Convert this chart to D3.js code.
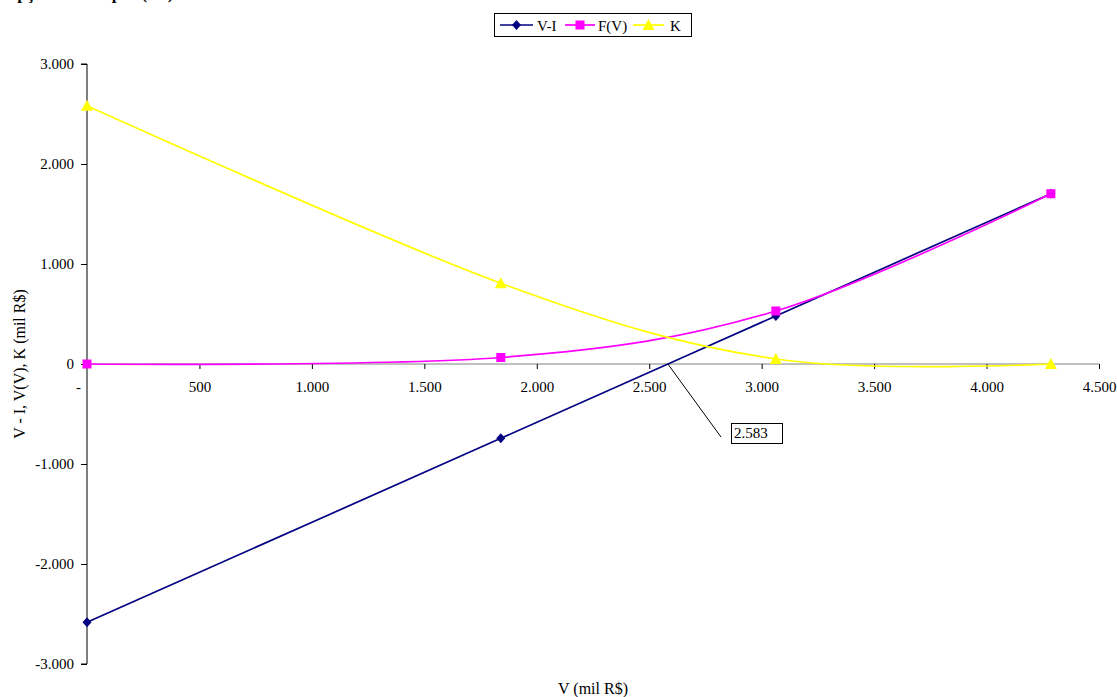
<!DOCTYPE html>
<html>
<head>
<meta charset="utf-8">
<script src="https://cdn.jsdelivr.net/npm/d3@7/dist/d3.min.js"></script>
<style>
  html, body { margin: 0; padding: 0; background: #fff; }
  svg { display: block; }
  svg text { font-family: "Liberation Serif", "Times New Roman", serif; font-size: 15px; fill: #000; }
</style>
</head>
<body>
<svg id="chart" width="1117" height="697"></svg>
<script>
// Asset value V (mil R$) at the computed points
const vValues = [0, 1840, 3063, 4286];
// Series, in mil R$
const seriesVI = [-2583, -743, 480, 1703];   // V - I
const seriesFV = [0, 65, 530, 1703];         // F(V)
const seriesK  = [2583, 808, 50, 0];         // K
const strikeLabel = 2583;

const xTicks = [0, 500, 1000, 1500, 2000, 2500, 3000, 3500, 4000, 4500];
const yTicks = [-3000, -2000, -1000, 0, 1000, 2000, 3000];

const svg = d3.select("#chart");
const thousands = v => d3.format(",")(v).replace(/,/g, ".").replace("\u2212", "-");
const fmtX = v => v === 0 ? "-" : thousands(v);
const fmtY = v => v === 0 ? "0" : thousands(v);

const x = d3.scaleLinear().domain([0, 4500]).range([87, 1099]);
const y = d3.scaleLinear().domain([-3000, 3000]).range([664, 64]);

// Title (sits at the very top edge)
svg.append("text").attr("x", 4).attr("y", -1)
  .style("font-weight", "bold").style("font-size", "17px")
  .text("Opção de Compra (R$)");

// Y axis
const yAxis = d3.axisLeft(y).tickValues(yTicks).tickSize(6).tickPadding(7)
  .tickFormat(fmtY);
const gy = svg.append("g").attr("transform", `translate(${x(0)},0)`).call(yAxis)
  .attr("font-family", null).attr("font-size", null);
gy.select(".domain").attr("stroke", "#000").attr("d", `M-6,${y(3000)}H0V${y(-3000)}H-6`);
gy.selectAll(".tick line").attr("stroke", "#000");

// X axis through zero
const xAxis = d3.axisBottom(x).tickValues(xTicks).tickSize(5).tickPadding(12)
  .tickFormat(fmtX);
const gx = svg.append("g").attr("transform", `translate(0,${y(0)})`).call(xAxis)
  .attr("font-family", null).attr("font-size", null);
gx.select(".domain").attr("stroke", "#808080").attr("d", `M${x(0)},0H${x(4500)}`);
gx.selectAll(".tick line").attr("stroke", "#000");
gx.selectAll(".tick").filter(d => d === 0).select("text").attr("dx", -9);
gx.selectAll(".tick").filter(d => d === 0).select("line").remove();

// Axis titles
svg.append("text").attr("transform", `translate(25,${y(0)}) rotate(-90)`)
  .attr("text-anchor", "middle").style("font-size", "16px").text("V - I, V(V), K (mil R$)");
svg.append("text").attr("x", 593).attr("y", 694)
  .attr("text-anchor", "middle").style("font-size", "16px").text("V (mil R$)");

// Series
const curve = d3.curveCardinal.tension(0);
const series = [
  { name: "V-I",  values: seriesVI, color: "#000080", marker: "diamond" },
  { name: "F(V)", values: seriesFV, color: "#FF00FF", marker: "square" },
  { name: "K",    values: seriesK,  color: "#FFFF00", marker: "triangle" }
];
const markerPath = {
  diamond: "M0,-5L4.5,0L0,5L-4.5,0Z",
  square: "M-4.5,-4.5H4.5V4.5H-4.5Z",
  triangle: "M0,-6L6,5H-6Z"
};
const line = d3.line().x(d => x(d[0])).y(d => y(d[1])).curve(curve);

series.forEach(s => {
  const pts = vValues.map((v, i) => [v, s.values[i]]);
  svg.append("path").attr("d", line(pts)).attr("fill", "none")
    .attr("stroke", s.color).attr("stroke-width", 1.7);
  svg.append("g").selectAll("path").data(pts).join("path")
    .attr("d", markerPath[s.marker])
    .attr("transform", d => `translate(${x(d[0])},${y(d[1])})`)
    .attr("fill", s.color);
});

// Annotation at the break-even point
const ax = x(strikeLabel), ay = y(0);
svg.append("line").attr("x1", ax).attr("y1", ay).attr("x2", 721).attr("y2", 437)
  .attr("stroke", "#000").attr("stroke-width", 1);
svg.append("rect").attr("x", 731.5).attr("y", 423.5).attr("width", 51).attr("height", 20)
  .attr("fill", "#fff").attr("stroke", "#000").attr("stroke-width", 1);
svg.append("text").attr("x", 734).attr("y", 438).text(thousands(strikeLabel));

// Legend
const lg = svg.append("g");
lg.append("rect").attr("x", 494.5).attr("y", 13.5).attr("width", 197).attr("height", 23)
  .attr("fill", "#fff").attr("stroke", "#000").attr("stroke-width", 1);
const legendX = [[500, 533, 537], [565, 595, 598], [633, 664, 670]];
series.forEach((s, i) => {
  const [l0, l1, tx] = legendX[i];
  lg.append("line").attr("x1", l0).attr("x2", l1).attr("y1", 25).attr("y2", 25)
    .attr("stroke", s.color).attr("stroke-width", 1.7);
  lg.append("path").attr("d", markerPath[s.marker])
    .attr("transform", `translate(${(l0 + l1) / 2},25)`)
    .attr("fill", s.color);
  lg.append("text").attr("x", tx).attr("y", 31).text(s.name);
});
</script>
</body>
</html>
